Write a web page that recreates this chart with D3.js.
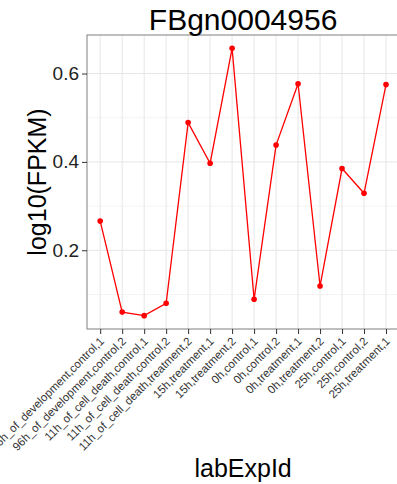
<!DOCTYPE html>
<html>
<head>
<meta charset="utf-8">
<script src="https://cdn.jsdelivr.net/npm/d3@7"></script>
<style>
  body { margin: 0; background: #fff; }
  svg { display: block; font-family: "Liberation Sans", Arial, sans-serif; }
</style>
</head>
<body>
<div id="chart"></div>
<script>
var w = 397;
var h = 484;

// data
var labels = [
    "96h_of_development,control,1",
    "96h_of_development,control,2",
    "11h_of_cell_death,control,1",
    "11h_of_cell_death,control,2",
    "11h_of_cell_death,treatment,2",
    "15h,treatment,1",
    "15h,treatment,2",
    "0h,control,1",
    "0h,control,2",
    "0h,treatment,1",
    "0h,treatment,2",
    "25h,control,1",
    "25h,control,2",
    "25h,treatment,1"
];
var values = [0.266, 0.060, 0.052, 0.080, 0.489, 0.397, 0.657, 0.089, 0.438, 0.577, 0.119, 0.385, 0.329, 0.575];
var yTicks = [0.2, 0.4, 0.6];
var yMinor = [0.1, 0.3, 0.5];

// panel edges (right edge runs past the window, as in the reference)
var pLeft = 87, pRight = 399.2, pTop = 35, pBottom = 329;

var svg = d3.select("#chart")
    .append("svg")
    .attr("width", w)
    .attr("height", h);

var xScale = d3.scalePoint()
    .domain(labels)
    .range([pLeft, pRight])
    .padding(0.6);

// ggplot style 5% expansion
var lo = d3.min(values), hi = d3.max(values);
var pad = (hi - lo) * 0.05;
var yScale = d3.scaleLinear()
    .domain([lo - pad, hi + pad])
    .range([pBottom, pTop]);

// grid
svg.selectAll(".minor")
    .data(yMinor)
    .enter()
    .append("line")
    .attr("x1", pLeft).attr("x2", pRight)
    .attr("y1", function(d) { return yScale(d); })
    .attr("y2", function(d) { return yScale(d); })
    .attr("stroke", "#f4f4f4")
    .attr("stroke-width", 1);

svg.selectAll(".major")
    .data(yTicks)
    .enter()
    .append("line")
    .attr("x1", pLeft).attr("x2", pRight)
    .attr("y1", function(d) { return yScale(d); })
    .attr("y2", function(d) { return yScale(d); })
    .attr("stroke", "#e6e6e6")
    .attr("stroke-width", 1);

svg.selectAll(".vgrid")
    .data(labels)
    .enter()
    .append("line")
    .attr("x1", function(d) { return xScale(d); })
    .attr("x2", function(d) { return xScale(d); })
    .attr("y1", pTop).attr("y2", pBottom)
    .attr("stroke", "#e6e6e6")
    .attr("stroke-width", 1);

// panel border
svg.append("rect")
    .attr("x", pLeft).attr("y", pTop)
    .attr("width", pRight - pLeft).attr("height", pBottom - pTop)
    .attr("fill", "none")
    .attr("stroke", "#7f7f7f")
    .attr("stroke-width", 1);

// line and points
var line = d3.line()
    .x(function(d, i) { return xScale(labels[i]); })
    .y(function(d) { return yScale(d); });

svg.append("path")
    .datum(values)
    .attr("fill", "none")
    .attr("stroke", "#ff0000")
    .attr("stroke-width", 1.3)
    .attr("d", line);

svg.selectAll("circle")
    .data(values)
    .enter()
    .append("circle")
    .attr("cx", function(d, i) { return xScale(labels[i]); })
    .attr("cy", function(d) { return yScale(d); })
    .attr("r", 2.8)
    .attr("fill", "#ff0000");

// x axis
var xAxis = svg.append("g")
    .attr("transform", "translate(0," + pBottom + ")")
    .call(d3.axisBottom(xScale).tickSize(5).tickPadding(3));
xAxis.select(".domain").remove();
xAxis.selectAll(".tick line").attr("stroke", "#333");
xAxis.selectAll(".tick text")
    .attr("fill", "#333")
    .style("font-size", "11.5px")
    .attr("text-anchor", "end")
    .attr("dy", null)
    .attr("y", 0)
    .attr("transform", "translate(4,13) rotate(-45)");

// y axis
var yAxis = svg.append("g")
    .attr("transform", "translate(" + pLeft + ",0)")
    .call(d3.axisLeft(yScale).tickValues(yTicks).tickSize(5).tickPadding(3).tickFormat(d3.format(".1f")));
yAxis.select(".domain").remove();
yAxis.selectAll(".tick line").attr("stroke", "#333");
yAxis.selectAll(".tick text")
    .attr("fill", "#222")
    .style("font-size", "19px");

// title
svg.append("text")
    .attr("x", (pLeft + pRight) / 2)
    .attr("y", 30)
    .attr("text-anchor", "middle")
    .style("font-size", "30px")
    .text("FBgn0004956");

// axis titles
svg.append("text")
    .attr("x", (pLeft + pRight) / 2)
    .attr("y", 477)
    .attr("text-anchor", "middle")
    .style("font-size", "25px")
    .text("labExpId");

svg.append("text")
    .attr("text-anchor", "middle")
    .attr("transform", "translate(46," + (pTop + pBottom) / 2 + ") rotate(-90)")
    .style("font-size", "25px")
    .text("log10(FPKM)");
</script>
</body>
</html>
